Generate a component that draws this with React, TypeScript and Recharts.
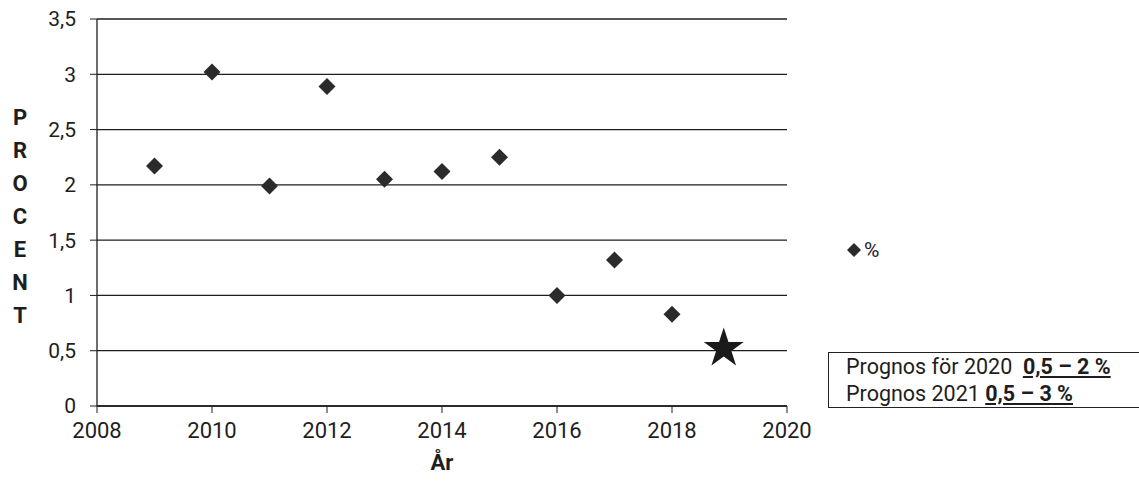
import React from "react";
import {
  CartesianGrid,
  Label,
  Scatter,
  ScatterChart,
  Symbols,
  XAxis,
  YAxis
} from "recharts";

const years = [2009, 2010, 2011, 2012, 2013, 2014, 2015, 2016, 2017, 2018];
const percent = [2.17, 3.02, 1.99, 2.89, 2.05, 2.12, 2.25, 1.0, 1.32, 0.83];
const starPoint = [{ year: 2018.9, value: 0.52 }];
const xTicks = [2008, 2010, 2012, 2014, 2016, 2018, 2020];
const yTicks = [0, 0.5, 1, 1.5, 2, 2.5, 3, 3.5];
const yLetters = ["P", "R", "O", "C", "E", "N", "T"];

const data = years.map((year, i) => ({ year, value: percent[i] }));

const FONT = "'Roboto', 'Liberation Sans', sans-serif";
const INK = "#1e1e1e";

const Diamond = (props: any) => {
  const { cx, cy } = props;
  const r = 8.5;
  return (
    <polygon
      points={`${cx},${cy - r} ${cx + r},${cy} ${cx},${cy + r} ${cx - r},${cy}`}
      fill="#2b2b2b"
    />
  );
};

const Star = (props: any) => (
  <Symbols cx={props.cx} cy={props.cy} type="star" size={495} fill="#1a1a1a" />
);

const ProcentLabel = () => (
  <text fontFamily={FONT} fontSize={22} fontWeight="bold" fill={INK} textAnchor="middle">
    {yLetters.map((ch, i) => (
      <tspan key={ch + i} x={20} y={125 + i * 33}>
        {ch}
      </tspan>
    ))}
  </text>
);

export default function App() {
  return (
    <div style={{ position: "absolute", left: 0, top: 0, width: 1139, height: 481, background: "#fff" }}>
      <ScatterChart
        width={1139}
        height={481}
        margin={{ top: 19, right: 352, left: 37, bottom: 5 }}
      >
        <CartesianGrid vertical={false} stroke={INK} strokeWidth={1.3} />
        <XAxis
          type="number"
          dataKey="year"
          domain={[2008, 2020]}
          ticks={xTicks}
          interval={0}
          height={70}
          tickSize={7}
          tickMargin={9}
          axisLine={{ stroke: INK, strokeWidth: 1.3 }}
          tickLine={{ stroke: INK }}
          tick={{ fill: INK, fontFamily: FONT, fontSize: 22 }}
        >
          <Label
            value="År"
            position="insideBottom"
            offset={6}
            style={{ fill: INK, fontFamily: FONT, fontSize: 22, fontWeight: "bold" }}
          />
        </XAxis>
        <YAxis
          type="number"
          dataKey="value"
          domain={[0, 3.5]}
          ticks={yTicks}
          interval={0}
          width={60}
          tickSize={7}
          tickMargin={14}
          axisLine={{ stroke: INK, strokeWidth: 1.3 }}
          tickLine={{ stroke: INK }}
          tick={{ fill: INK, fontFamily: FONT, fontSize: 21 }}
          tickFormatter={(v: number) => String(v).replace(".", ",")}
        >
          <Label content={<ProcentLabel />} />
        </YAxis>
        <Scatter name="%" data={data} shape={<Diamond />} isAnimationActive={false} />
        <Scatter name="prognos" data={starPoint} shape={<Star />} isAnimationActive={false} />
      </ScatterChart>
      <div
        style={{
          position: "absolute",
          left: 847,
          top: 238,
          display: "flex",
          alignItems: "center",
          fontFamily: FONT,
          fontSize: 21,
          color: INK
        }}
      >
        <svg width={14} height={14} style={{ marginRight: 3 }}>
          <polygon points="7,0 14,7 7,14 0,7" fill="#2b2b2b" />
        </svg>
        <span>%</span>
      </div>
      <div
        style={{
          position: "absolute",
          left: 828,
          top: 352,
          width: 320,
          height: 56,
          border: "1.5px solid #222",
          boxSizing: "border-box",
          fontFamily: FONT,
          fontSize: 21.5,
          lineHeight: "27px",
          color: INK,
          paddingLeft: 17,
          paddingTop: 0
        }}
      >
        <div>
          Prognos för 2020&nbsp;{" "}
          <b style={{ textDecoration: "underline" }}>0,5 – 2 %</b>
        </div>
        <div>
          Prognos 2021 <b style={{ textDecoration: "underline" }}>0,5 – 3 %</b>
        </div>
      </div>
    </div>
  );
}
